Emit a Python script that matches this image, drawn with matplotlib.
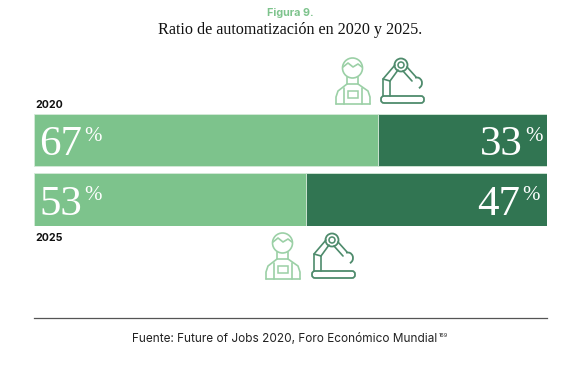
import matplotlib
matplotlib.use('Agg')
import matplotlib.pyplot as plt
from matplotlib.patches import Circle, FancyBboxPatch, Arc, Rectangle

years = ['2020', '2025']
human = [67, 53]
machine = [33, 47]

light = '#7DC38C'
dark = '#317552'

W, H = 567, 365
fig = plt.figure(figsize=(W / 100, H / 100), dpi=100, facecolor='white')

# bars, the axes spans exactly the bar area
ax = fig.add_axes([34 / W, 1 - 226 / H, 513 / W, 112.5 / H])
ax.barh(years, human, height=0.88, color=light, edgecolor='#d5ead9', linewidth=0.6)
ax.barh(years, machine, left=human, height=0.88, color=dark, edgecolor='#d5ead9', linewidth=0.6)
ax.set_xlim(0, 100)
ax.set_ylim(1.44, -0.44)
ax.axis('off')

# everything else is placed in pixels of the reference
over = fig.add_axes([0, 0, 1, 1], facecolor='none')
over.set_xlim(0, W)
over.set_ylim(H, 0)
over.axis('off')


def line(pts, x0, y0, color, lw=1.2):
    over.plot([x0 + p[0] for p in pts], [y0 + p[1] for p in pts], color=color, lw=lw,
              solid_capstyle='round', solid_joinstyle='round')


def worker(x0, y0, color='#9BD0A6'):
    over.add_patch(Circle((x0 + 17.5, y0 + 10), 10, fill=False, ec=color, lw=1.2))
    line([(8, 9), (13, 5), (18, 9), (23, 6), (27, 9)], x0, y0, color)
    line([(12, 19), (12, 26), (23, 26), (23, 19)], x0, y0, color)
    line([(1, 46), (1, 39), (3, 33), (12, 26)], x0, y0, color)
    line([(35, 46), (35, 39), (33, 33), (23, 26)], x0, y0, color)
    line([(1, 46), (35, 46)], x0, y0, color)
    line([(9, 46), (9, 30)], x0, y0, color)
    line([(27, 46), (27, 30)], x0, y0, color)
    over.add_patch(Rectangle((x0 + 13, y0 + 33), 10, 7, fill=False, ec=color, lw=1.1))


def robot(x0, y0, color='#4E8B6C'):
    over.add_patch(FancyBboxPatch((x0 + 1, y0 + 38), 43, 7, boxstyle='round,pad=0,rounding_size=3',
                                  fill=False, ec=color, lw=1.3))
    line([(3, 38), (3, 21), (10, 23), (10, 38)], x0, y0, color)
    line([(3, 21), (15, 7)], x0, y0, color)
    line([(10, 23), (18, 12)], x0, y0, color)
    over.add_patch(Circle((x0 + 21, y0 + 7), 6.5, fill=False, ec=color, lw=1.3))
    over.add_patch(Circle((x0 + 21, y0 + 7), 3, fill=False, ec=color, lw=1.1))
    line([(27, 9), (36, 19)], x0, y0, color)
    line([(23, 13), (32, 23)], x0, y0, color)
    over.add_patch(Arc((x0 + 37, y0 + 25), 10, 11, theta1=-110, theta2=70, ec=color, lw=1.3))


worker(335, 58)
robot(380, 58)
worker(265, 233)
robot(311, 233)

serif = 'Liberation Serif'
sans = 'Inter'

over.text(290, 13.5, 'Figura 9.', ha='center', va='center', family=sans, weight='bold',
          fontsize=7.8, color=light)
over.text(290, 30, 'Ratio de automatización en 2020 y 2025.', ha='center', va='center',
          family=serif, fontsize=11.6, color='#111111')

over.text(35, 104.5, years[0], ha='left', va='center', family=sans, weight='bold', fontsize=7.6, color='#111111')
over.text(35, 238, years[1], ha='left', va='center', family=sans, weight='bold', fontsize=7.6, color='#111111')

# percentages, the sign is a smaller text next to the number
num_y = [155, 215]
pct_y = [141, 200]
left_x = [39, 39]
pct_left = [84, 84]
num_right = [523, 520]
pct_right = [525, 522]
for i in range(len(years)):
    over.text(left_x[i], num_y[i], str(human[i]), ha='left', va='baseline', family=serif, fontsize=31, color='white')
    over.text(pct_left[i], pct_y[i], '%', ha='left', va='baseline', family=serif, fontsize=15, color='white')
    over.text(num_right[i], num_y[i], str(machine[i]), ha='right', va='baseline', family=serif, fontsize=31, color='white')
    over.text(pct_right[i], pct_y[i], '%', ha='left', va='baseline', family=serif, fontsize=15, color='white')

over.plot([34, 547], [318, 318], color='#555555', lw=0.9)
over.text(132, 339, 'Fuente: Future of Jobs 2020, Foro Económico Mundial', ha='left', va='center',
          family=sans, fontsize=8.5, color='#222222')
over.text(438.5, 335.5, '169', ha='left', va='center', family=sans, fontsize=4, color='#222222')

fig.savefig('out.png', dpi=100)
